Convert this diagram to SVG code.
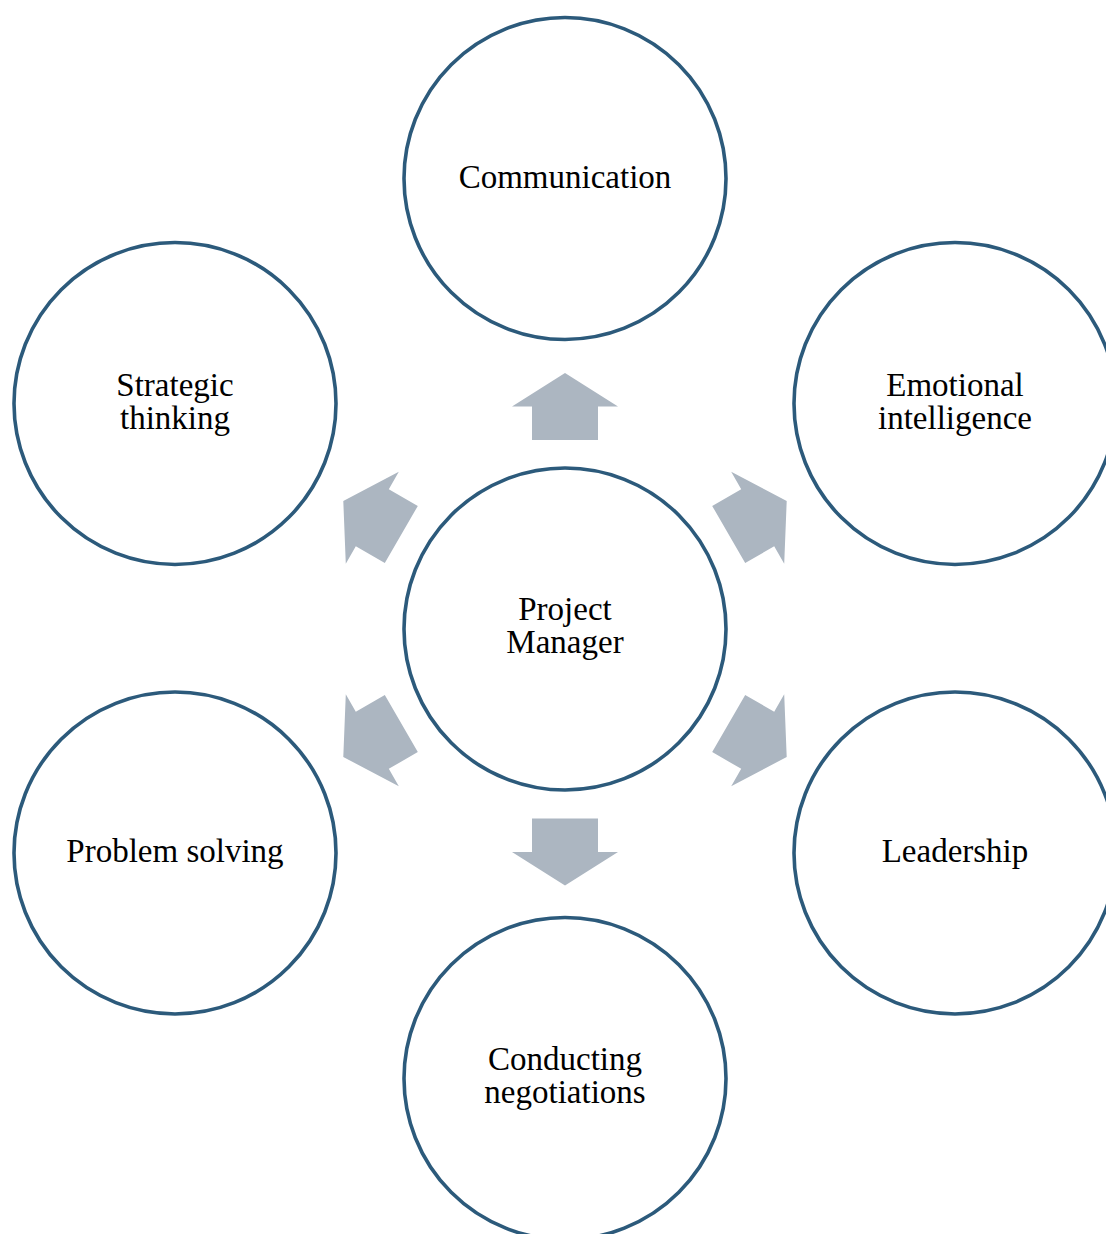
<svg xmlns="http://www.w3.org/2000/svg" width="1106" height="1234" viewBox="0 0 1106 1234">
  <style>
    .node circle { fill: #ffffff; stroke: #2c5a7b; stroke-width: 3.6; }
    .node text { font-family: "Liberation Serif", "Times New Roman", serif; font-size: 33px; fill: #000000; text-anchor: middle; }
    .arrow { fill: #acb6c1; }
  </style>
  <defs>
    <!-- block arrow pointing up, centred on its origin -->
    <polygon id="blockArrow" points="0,-33.5 53,0 33,0 33,33.5 -33,33.5 -33,0 -53,0"/>
  </defs>
  <rect width="1106" height="1234" fill="#ffffff"/>

  <g id="connectors">
    <use href="#blockArrow" class="arrow" transform="translate(565,406.5)"/>
    <use href="#blockArrow" class="arrow" transform="translate(757.7,517.75) rotate(60)"/>
    <use href="#blockArrow" class="arrow" transform="translate(757.7,740.25) rotate(120)"/>
    <use href="#blockArrow" class="arrow" transform="translate(565,852) rotate(180)"/>
    <use href="#blockArrow" class="arrow" transform="translate(372.3,740.25) rotate(240)"/>
    <use href="#blockArrow" class="arrow" transform="translate(372.3,517.75) rotate(300)"/>
  </g>

  <g id="project-manager" class="node">
    <circle cx="565" cy="629" r="161"/>
    <text x="565" y="620">Project</text>
    <text x="565" y="653">Manager</text>
  </g>
  <g id="communication" class="node">
    <circle cx="565" cy="178.5" r="161"/>
    <text x="565" y="188">Communication</text>
  </g>
  <g id="emotional-intelligence" class="node">
    <circle cx="955" cy="403.5" r="161"/>
    <text x="955" y="396">Emotional</text>
    <text x="955" y="429">intelligence</text>
  </g>
  <g id="leadership" class="node">
    <circle cx="955" cy="853" r="161"/>
    <text x="955" y="862">Leadership</text>
  </g>
  <g id="conducting-negotiations" class="node">
    <circle cx="565" cy="1078.5" r="161"/>
    <text x="565" y="1070">Conducting</text>
    <text x="565" y="1103">negotiations</text>
  </g>
  <g id="problem-solving" class="node">
    <circle cx="175" cy="853" r="161"/>
    <text x="175" y="862">Problem solving</text>
  </g>
  <g id="strategic-thinking" class="node">
    <circle cx="175" cy="403.5" r="161"/>
    <text x="175" y="396">Strategic</text>
    <text x="175" y="429">thinking</text>
  </g>
</svg>
